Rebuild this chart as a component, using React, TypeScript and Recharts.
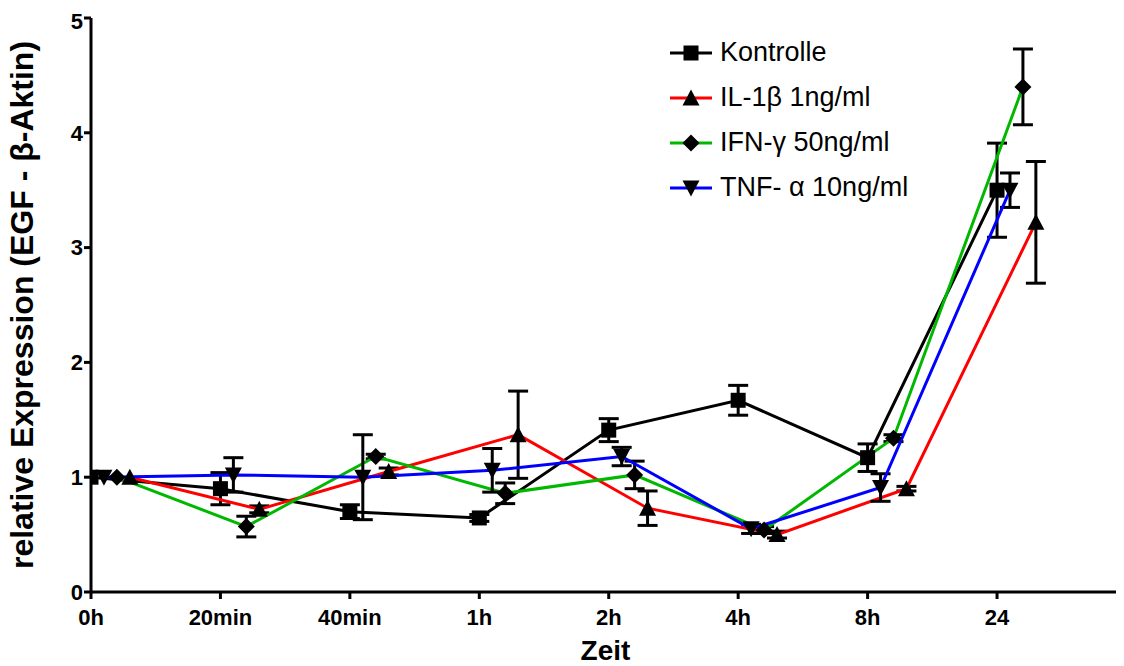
import React from "react"
import { ComposedChart, Line, XAxis, YAxis, ErrorBar } from "recharts"

const categories = ["0h", "20min", "40min", "1h", "2h", "4h", "8h", "24"]
const yTicks = [0, 1, 2, 3, 4, 5]

const kontrolle = [1.0, 0.9, 0.7, 0.645, 1.41, 1.67, 1.17, 3.5]
const kontrolleErr = [0, 0.14, 0.06, 0.03, 0.1, 0.13, 0.12, 0.41]
const il1b = [1.0, 0.72, 1.05, 1.37, 0.73, 0.5, 0.9, 3.22]
const il1bErr = [0, 0.03, 0.03, 0.38, 0.15, 0.03, 0.02, 0.53]
const ifng = [1.0, 0.57, 1.18, 0.86, 1.02, 0.54, 1.34, 4.4]
const ifngErr = [0, 0.09, 0.02, 0.09, 0.12, 0.03, 0.03, 0.33]
const tnfa = [1.0, 1.02, 1.0, 1.06, 1.18, 0.55, 0.91, 3.5]
const tnfaErr = [0, 0.15, 0.37, 0.19, 0.08, 0.04, 0.12, 0.15]

// dodge so the groups don't sit on top of each other (like prism does)
const makeSeries = (vals: number[], errs: number[], offset: number) =>
  vals.map((v, i) => ({ x: i + offset, y: v, err: errs[i] }))

const FONT = "'Liberation Sans', Arial, sans-serif"

function Marker({ kind, cx, cy }: { kind: string; cx: number; cy: number }) {
  const s = 7.5
  if (kind === "square") return <rect x={cx - s} y={cy - s} width={s * 2} height={s * 2} fill="#000" />
  if (kind === "up")
    return <polygon points={`${cx},${cy - s - 1} ${cx + s + 1},${cy + s} ${cx - s - 1},${cy + s}`} fill="#000" />
  if (kind === "down")
    return <polygon points={`${cx},${cy + s + 1} ${cx + s + 1},${cy - s} ${cx - s - 1},${cy - s}`} fill="#000" />
  return <polygon points={`${cx},${cy - s - 1} ${cx + s + 1},${cy} ${cx},${cy + s + 1} ${cx - s - 1},${cy}`} fill="#000" />
}

const series = [
  { name: "Kontrolle", color: "#000000", kind: "square", data: makeSeries(kontrolle, kontrolleErr, 0) },
  { name: "IL-1β 1ng/ml", color: "#ff0000", kind: "up", data: makeSeries(il1b, il1bErr, 0.3) },
  { name: "IFN-γ 50ng/ml", color: "#00b800", kind: "diamond", data: makeSeries(ifng, ifngErr, 0.2) },
  { name: "TNF- α 10ng/ml", color: "#0000ff", kind: "down", data: makeSeries(tnfa, tnfaErr, 0.1) },
]

const tickStyle = { fill: "#000", fontSize: 22, fontWeight: "bold", fontFamily: FONT }

export default function App() {
  return (
    <div style={{ position: "relative", width: 1116, height: 658 }}>
      <ComposedChart width={1116} height={658} margin={{ top: 10, right: 4, bottom: 14, left: 0 }}>
        <XAxis
          dataKey="x"
          type="number"
          domain={[0, 7.95]}
          ticks={[0, 1, 2, 3, 4, 5, 6, 7]}
          tickFormatter={(i: number) => categories[i]}
          allowDataOverflow
          height={60}
          axisLine={{ stroke: "#000", strokeWidth: 3 }}
          tickLine={{ stroke: "#000", strokeWidth: 3 }}
          tickSize={7}
          tickMargin={10}
          tick={tickStyle}
          label={{ value: "Zeit", position: "insideBottom", offset: -8, fill: "#000", fontSize: 28, fontWeight: "bold", fontFamily: FONT }}
        />
        <YAxis
          type="number"
          domain={[0, 5]}
          ticks={yTicks}
          width={83}
          axisLine={{ stroke: "#000", strokeWidth: 3 }}
          tickLine={{ stroke: "#000", strokeWidth: 3 }}
          tickSize={7}
          tickMargin={1}
          tick={tickStyle}
          label={{
            value: "relative Expression (EGF - β-Aktin)",
            angle: -90,
            position: "insideLeft",
            offset: 14,
            style: { textAnchor: "middle" },
            fill: "#000",
            fontSize: 32,
            fontWeight: "bold",
            fontFamily: FONT,
          }}
        />
        {series.map((s) => (
          <Line
            key={s.name}
            data={s.data}
            dataKey="y"
            name={s.name}
            stroke={s.color}
            strokeWidth={3}
            isAnimationActive={false}
            dot={(p: any) => <Marker key={`${s.name}-${p.index}`} kind={s.kind} cx={p.cx} cy={p.cy} />}
            activeDot={false}
          >
            <ErrorBar dataKey="err" direction="y" width={10} stroke="#000" strokeWidth={3} />
          </Line>
        ))}
      </ComposedChart>
      <div style={{ position: "absolute", left: 660, top: 22, fontFamily: FONT, fontSize: 27, color: "#000" }}>
        {series.map((s) => (
          <div key={s.name} style={{ display: "flex", alignItems: "center", height: 45 }}>
            <svg width={46} height={20}>
              <line x1={2} y1={10} x2={44} y2={10} stroke={s.color} strokeWidth={3} />
              <Marker kind={s.kind} cx={23} cy={10} />
            </svg>
            <span style={{ marginLeft: 6 }}>{s.name}</span>
          </div>
        ))}
      </div>
    </div>
  )
}
